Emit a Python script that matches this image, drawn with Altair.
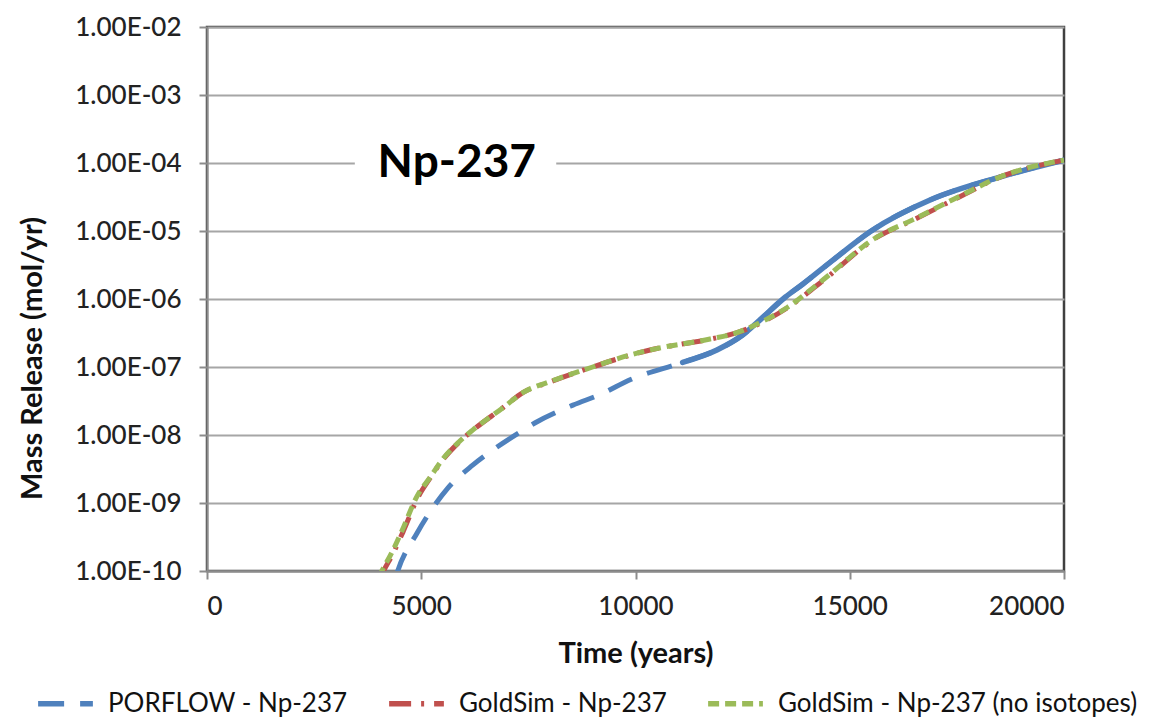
import altair as alt
import pandas as pd

# ---- data ----
porflow_t = [4400, 4450, 4900, 5270, 5620, 6200, 6600, 7300, 7650, 8540, 9200, 9900,
             11100, 11900, 12500, 12900, 13500, 13900, 14600, 15500, 16900, 18500, 20000]
porflow_v = [8.0e-11, 1.0e-10, 3.6e-10, 8.5e-10, 1.66e-9, 3.6e-9, 5.6e-9, 1.1e-8, 1.5e-8, 2.75e-8,
             4.0e-8, 6.6e-8, 1.17e-7, 1.78e-7, 2.95e-7, 4.9e-7, 1.07e-6, 1.65e-6, 3.7e-6,
             1.0e-5, 2.9e-5, 6.2e-5, 1.1e-4]

goldsim_t = [4050, 4120, 4340, 4570, 4920, 5200, 5500, 5860, 6200, 6900, 7370, 8000, 9000,
             9640, 10340, 11740, 12370, 12970, 13540, 14300, 15640, 16480, 17570, 18500,
             19740, 20000]
goldsim_v = [8.0e-11, 1.0e-10, 1.8e-10, 3.7e-10, 1.2e-9, 2.3e-9, 4.3e-9, 7.6e-9, 1.17e-8,
             2.5e-8, 4.2e-8, 6.0e-8, 1.0e-7, 1.35e-7, 1.78e-7, 2.57e-7, 3.2e-7, 4.6e-7,
             7.4e-7, 1.7e-6, 8.1e-6, 1.45e-5, 3.2e-5, 6.2e-5, 1.02e-4, 1.1e-4]

noiso_t = [4000, 4080, 4320, 4550, 4900, 5200, 5500, 5860, 6200, 6900, 7370, 8000, 9000,
           9640, 10340, 11740, 12370, 12970, 13540, 14300, 15640, 16480, 17570, 18500,
           19740, 20000]
noiso_v = [8.0e-11, 1.0e-10, 1.9e-10, 3.9e-10, 1.25e-9, 2.35e-9, 4.4e-9, 7.7e-9, 1.18e-8,
           2.5e-8, 4.2e-8, 6.1e-8, 1.0e-7, 1.36e-7, 1.78e-7, 2.58e-7, 3.2e-7, 4.7e-7,
           7.5e-7, 1.75e-6, 8.2e-6, 1.47e-5, 3.25e-5, 6.2e-5, 1.03e-4, 1.1e-4]

series_names = ["PORFLOW - Np-237", "GoldSim - Np-237", "GoldSim - Np-237 (no isotopes)"]
series_colors = ["#4F81BD", "#C0504D", "#9BBB59"]
series_dashes = [[26, 16], [22, 10, 3, 10], [11, 6]]

y_ticks = [1e-10, 1e-9, 1e-8, 1e-7, 1e-6, 1e-5, 1e-4, 1e-3, 1e-2]
x_ticks = [0, 5000, 10000, 15000, 20000]

title_text = "Np-237"
title_pos = {"t": 5830, "v": 1e-4, "t0": 3450, "t1": 8150, "v0": 10 ** -4.33, "v1": 10 ** -3.67}

rows = []
for name, ts, vs in zip(series_names, [porflow_t, goldsim_t, noiso_t],
                        [porflow_v, goldsim_v, noiso_v]):
    for t, v in zip(ts, vs):
        rows.append({"series": name, "t": t, "v": v})
df = pd.DataFrame(rows)

FONT = "Lato"

xs = alt.Scale(domain=[0, 20000], nice=False, zero=False)
ys = alt.Scale(type="log", domain=[1e-10, 1e-2], nice=False)

label_expr = ("'1.00E-' + (abs(round(log(datum.value)/LN10)) < 10 ? '0' : '') + "
              "abs(round(log(datum.value)/LN10))")

x_enc = alt.X("t:Q", scale=xs, title="Time (years)",
              axis=alt.Axis(values=x_ticks, format="d", grid=False, tickSize=8,
                            labelPadding=14, titlePadding=20))
y_enc = alt.Y("v:Q", scale=ys, title="Mass Release (mol/yr)",
              axis=alt.Axis(values=y_ticks, labelExpr=label_expr, grid=True, tickSize=8,
                            labelPadding=18, titleX=-160, titleY=331))

# solid part of the PORFLOW curve (Excel renders it solid at dense points)
solid = alt.Chart(df).transform_filter(
    (alt.datum.series == series_names[0]) & (alt.datum.t >= 10000)
).mark_line(strokeWidth=5.5, color=series_colors[0], clip=True, strokeCap="round",
            interpolate="monotone").encode(
    x=x_enc, y=y_enc, detail="series:N"
)

lines = alt.Chart(df).mark_line(strokeWidth=5, clip=True, strokeCap="butt",
                                interpolate="monotone").encode(
    x=x_enc, y=y_enc,
    color=alt.Color("series:N", scale=alt.Scale(domain=series_names, range=series_colors),
                    sort=series_names,
                    legend=alt.Legend(title=None, orient="none", legendX=-172, legendY=646,
                                      direction="horizontal", symbolType="stroke",
                                      symbolSize=3000, symbolStrokeWidth=5.5,
                                      labelFontSize=26, labelFont=FONT, labelColor="#111",
                                      labelOffset=12, columnPadding=30, labelLimit=500)),
    strokeDash=alt.StrokeDash("series:N", scale=alt.Scale(domain=series_names,
                                                          range=series_dashes),
                              sort=series_names, legend=None),
)

tdf = pd.DataFrame([title_pos | {"label": title_text}])
box = alt.Chart(tdf).mark_rect(color="white").encode(
    x=alt.X("t0:Q", scale=xs), x2="t1:Q", y=alt.Y("v0:Q", scale=ys), y2="v1:Q"
)
txt = alt.Chart(tdf).mark_text(font=FONT, fontSize=46, fontWeight="bold", color="black").encode(
    x=alt.X("t:Q", scale=xs), y=alt.Y("v:Q", scale=ys), text="label:N"
)

chart = alt.layer(box, txt, solid, lines).properties(
    width=857, height=544,
    autosize=alt.AutoSizeParams(type="none"),
    padding={"left": 199, "top": 19, "right": 101, "bottom": 150},
).configure_view(
    stroke="#404040", strokeWidth=2.5
).configure_axis(
    labelFont=FONT, labelFontSize=26, labelColor="#222", labelFontWeight=500,
    titleFont=FONT, titleFontSize=29, titleFontWeight="bold", titleColor="#111",
    domainColor="#8C8C8C", domainWidth=2, tickColor="#8C8C8C", tickWidth=2,
    gridColor="#A6A6A6", gridWidth=2,
)

chart.save("out.html", embed_options={"renderer": "svg", "actions": False})
